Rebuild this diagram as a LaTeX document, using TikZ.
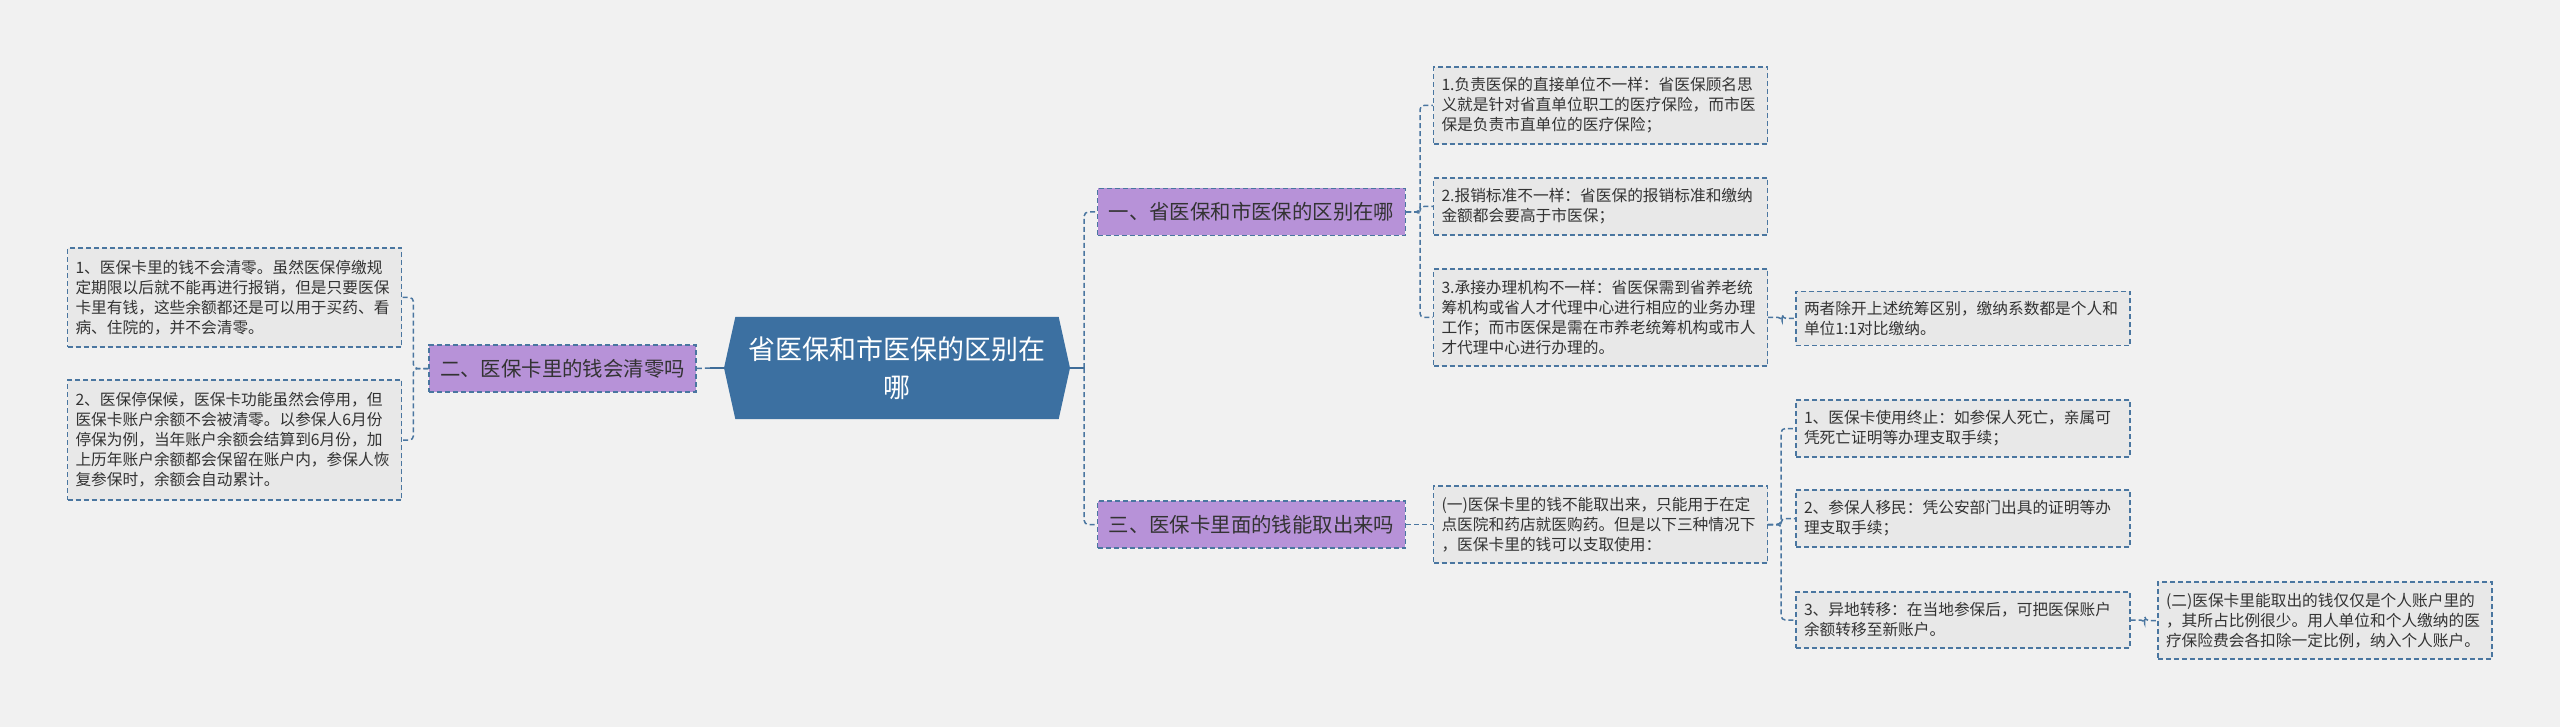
\documentclass[tikz,border=0pt]{standalone}
\usepackage{fontspec}
\setmainfont{Noto Sans CJK SC}
\usepackage{xcolor}
\usepackage{tikz}
\usetikzlibrary{positioning, arrows.meta, shapes.symbols}
\definecolor{bgGray}{HTML}{F1F1F1}
\definecolor{rootBlue}{HTML}{3C70A1}
\definecolor{lineBlue}{HTML}{3E6C98}
\definecolor{dashBlue}{HTML}{4A76A0}
\definecolor{lilac}{HTML}{B792D8}
\definecolor{leafGray}{HTML}{E8E8E8}
\definecolor{nInk}{HTML}{333333}
\tikzset{
  rootnode/.style={shape=signal, signal to=west and east, signal pointer angle=155,
    fill=rootBlue, text=white, minimum width=346pt, minimum height=102pt,
    inner sep=0pt, align=center, font=\fontsize{27}{38}\selectfont},
  branch/.style={draw=dashBlue, line width=1.4pt, dash pattern=on 5pt off 3pt,
    fill=lilac, text=nInk, inner xsep=11pt, inner ysep=0pt, minimum height=47pt,
    font=\fontsize{20.4}{24}\selectfont},
  leaf/.style={draw=dashBlue, line width=1.4pt, dash pattern=on 5pt off 3pt,
    fill=leafGray, text=nInk, text width=318pt, inner xsep=8pt, inner ysep=0pt,
    minimum height=#1, align=left, font=\fontsize{15.7}{20}\selectfont},
  leaf/.default=57pt,
  rootlink/.style={draw=lineBlue, line width=2.6pt},
  link/.style={draw=dashBlue, line width=1.5pt, dash pattern=on 5pt off 3pt,
    rounded corners=4pt},
}

\begin{document}
\begin{tikzpicture}[x=1pt, y=-1pt]
  \fill[bgGray] (0,0) rectangle (2560,727);
  \useasboundingbox (0,0) rectangle (2560,727);

  \node[rootnode] (root) at (897,368) {省医保和市医保的区别在\\哪};

  % left side
  \node[branch] (b2) at (562.5,368.5) {二、医保卡里的钱会清零吗};
  \node[leaf=99pt] (l1) at (234.5,297.5) {1、医保卡里的钱不会清零。虽然医保停缴规\\定期限以后就不能再进行报销，但是只要医保\\卡里有钱，这些余额都还是可以用于买药、看\\病、住院的，并不会清零。};
  \node[leaf=120pt] (l2) at (234.5,440) {2、医保停保候，医保卡功能虽然会停用，但\\医保卡账户余额不会被清零。以参保人6月份\\停保为例，当年账户余额会结算到6月份，加\\上历年账户余额都会保留在账户内，参保人恢\\复参保时，余额会自动累计。};

  % right side, upper branch
  \node[branch] (b1) at (1251.5,212) {一、省医保和市医保的区别在哪};
  \node[leaf=77pt] (a1) at (1600.5,105.5) {1.负责医保的直接单位不一样：省医保顾名思\\义就是针对省直单位职工的医疗保险，而市医\\保是负责市直单位的医疗保险；};
  \node[leaf] (a2) at (1600.5,206.5) {2.报销标准不一样：省医保的报销标准和缴纳\\金额都会要高于市医保；};
  \node[leaf=97pt] (a3) at (1600.5,317.5) {3.承接办理机构不一样：省医保需到省养老统\\筹机构或省人才代理中心进行相应的业务办理\\工作；而市医保是需在市养老统筹机构或市人\\才代理中心进行办理的。};
  \node[leaf=54pt] (a3c) at (1963,318.5) {两者除开上述统筹区别，缴纳系数都是个人和\\单位1:1对比缴纳。};

  % right side, lower branch
  \node[branch] (b3) at (1251.5,524.5) {三、医保卡里面的钱能取出来吗};
  \node[leaf=77pt] (c0) at (1600.5,524.5) {(一)医保卡里的钱不能取出来，只能用于在定\\点医院和药店就医购药。但是以下三种情况下\\，医保卡里的钱可以支取使用：};
  \node[leaf] (c1) at (1963,428.5) {1、医保卡使用终止：如参保人死亡，亲属可\\凭死亡证明等办理支取手续；};
  \node[leaf] (c2) at (1963,518.5) {2、参保人移民：凭公安部门出具的证明等办\\理支取手续；};
  \node[leaf=56pt] (c3) at (1963,620) {3、异地转移：在当地参保后，可把医保账户\\余额转移至新账户。};
  \node[leaf=77pt] (c3c) at (2325,620.5) {(二)医保卡里能取出的钱仅仅是个人账户里的\\，其所占比例很少。用人单位和个人缴纳的医\\疗保险费会各扣除一定比例，纳入个人账户。};

  % connectors
  \draw[rootlink] (root.east) -- ++(14,0) coordinate (rbus);
  \draw[rootlink] (root.west) -- ++(-14,0) coordinate (lbus);
  \draw[link] (rbus) |- (b1.west);
  \draw[link] (rbus) |- (b3.west);
  \draw[link] (lbus) -- (b2.east);
  \draw[link] (b2.west) -- ++(-15,0) |- (l1.east);
  \draw[link] (b2.west) -- ++(-15,0) |- (l2.east);
  \draw[link] (b1.east) -- ++(14,0) |- (a1.west);
  \draw[link] (b1.east) -- ++(14,0) |- (a2.west);
  \draw[link] (b1.east) -- ++(14,0) |- (a3.west);
  \draw[link] (a3.east) -- ++(14,0) |- (a3c.west);
  \draw[link] (b3.east) -- (c0.west);
  \draw[link] (c0.east) -- ++(13,0) |- (c1.west);
  \draw[link] (c0.east) -- ++(13,0) |- (c2.west);
  \draw[link] (c0.east) -- ++(13,0) |- (c3.west);
  \draw[link] (c3.east) -- ++(14,0) |- (c3c.west);
\end{tikzpicture}
\end{document}
